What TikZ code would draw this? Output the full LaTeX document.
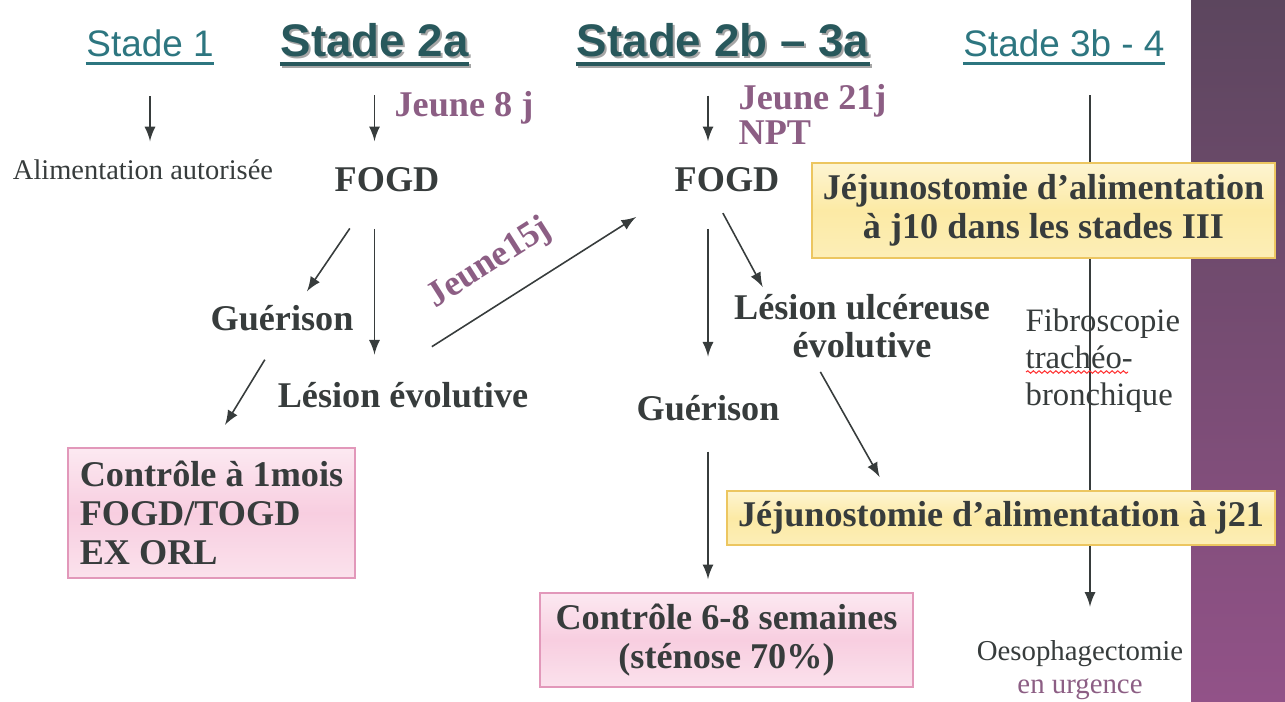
\documentclass[tikz,border=0pt]{standalone}
\usepackage{fontspec}
\setmainfont{Liberation Serif}
\setsansfont{Liberation Sans}
\usetikzlibrary{backgrounds,decorations.pathmorphing}

\definecolor{teal1}{RGB}{45,118,128}
\definecolor{teal2}{RGB}{40,88,92}
\definecolor{ink}{RGB}{55,60,60}
\definecolor{mauve}{RGB}{140,94,132}
\definecolor{pinkfill}{RGB}{248,206,224}
\definecolor{pinkline}{RGB}{226,152,186}
\definecolor{yellowfill}{RGB}{252,234,165}
\definecolor{yellowline}{RGB}{236,198,96}
\definecolor{bandtop}{RGB}{92,70,94}
\definecolor{bandbot}{RGB}{146,82,136}

\tikzset{
  stade/.style={inner sep=0pt, font=\sffamily\fontsize{10.5}{12}\selectfont, text=teal1},
  bigstade/.style={inner sep=0pt, font=\sffamily\bfseries\fontsize{13}{15}\selectfont, text=teal2},
  ombre/.style={bigstade, text=black!35},
  etape/.style={inner sep=0pt, font=\bfseries\fontsize{10.3}{11}\selectfont, text=ink},
  duree/.style={inner sep=0pt, font=\bfseries\fontsize{10.3}{10}\selectfont, text=mauve},
  note/.style={inner sep=0pt, font=\fontsize{8.2}{9.4}\selectfont, text=ink},
  pinkbox/.style={etape, inner sep=3pt, draw=pinkline, line width=0.5pt,
    top color=pinkfill!45, bottom color=pinkfill!60, middle color=pinkfill},
  yellowbox/.style={etape, inner sep=3pt, draw=yellowline, line width=0.5pt,
    top color=yellowfill!50, bottom color=yellowfill!80, middle color=yellowfill},
  fleche/.style={->, draw=ink, line width=0.45pt}
}

\begin{document}
\begin{tikzpicture}[>=latex]
\useasboundingbox (0,0) rectangle (12.85,-7.01);

% titres
\node[stade] (stade1) at (1.50,-0.43) {Stade 1};
\node[ombre] (ombre2a) at (3.765,-0.42) {Stade 2a};
\node[bigstade] (stade2a) at (3.745,-0.40) {Stade 2a};
\node[ombre] (ombre2b) at (7.25,-0.42) {Stade 2b – 3a};
\node[bigstade] (stade2b) at (7.23,-0.40) {Stade 2b – 3a};
\node[stade] (stade3b) at (10.64,-0.43) {Stade 3b - 4};

\draw[teal1, line width=0.8pt] ([yshift=-2pt]stade1.base west) -- ([yshift=-2pt]stade1.base east);
\draw[teal1, line width=0.8pt] ([yshift=-2pt]stade3b.base west) -- ([yshift=-2pt]stade3b.base east);
\draw[black!35, line width=1.1pt] ([yshift=-2.3pt]ombre2a.base west) -- ([yshift=-2.3pt]ombre2a.base east);
\draw[teal2, line width=1.1pt] ([yshift=-2.3pt]stade2a.base west) -- ([yshift=-2.3pt]stade2a.base east);
\draw[black!35, line width=1.1pt] ([yshift=-2.3pt]ombre2b.base west) -- ([yshift=-2.3pt]ombre2b.base east);
\draw[teal2, line width=1.1pt] ([yshift=-2.3pt]stade2b.base west) -- ([yshift=-2.3pt]stade2b.base east);

% stade 1
\node[note, font=\fontsize{8.1}{9}\selectfont] (alim) at (1.43,-1.70) {Alimentation autorisée};

% stade 2a
\node[duree] (jeune8) at (4.64,-1.08) {Jeune 8 j};
\node[etape] (fogd1) at (3.87,-1.80) {FOGD};
\node[etape] (guer1) at (2.82,-3.18) {Guérison};
\node[etape] (lesion1) at (4.03,-3.95) {Lésion évolutive};
\node[pinkbox, align=left, minimum width=2.87cm, minimum height=1.30cm] (ctrl1) at (2.115,-5.13)
  {Contrôle à 1mois\\FOGD/TOGD\\EX ORL};

% stade 2b - 3a
\node[duree, anchor=north west, align=left] (jeune21) at (7.38,-0.84) {Jeune 21j\\NPT};
\node[etape] (fogd2) at (7.27,-1.80) {FOGD};
\node[etape] (guer2) at (7.08,-4.08) {Guérison};
\node[etape, align=center] (lesionu) at (8.62,-3.26) {Lésion ulcéreuse\\évolutive};
\node[pinkbox, align=center, minimum width=3.73cm, minimum height=0.94cm] (ctrl2) at (7.265,-6.40)
  {Contrôle 6-8 semaines\\(sténose 70\%)};
\node[yellowbox, minimum width=5.48cm, minimum height=0.50cm] (jej21) at (10.01,-5.18)
  {Jéjunostomie d’alimentation à j21};

% stade 3b - 4
\node[yellowbox, align=center, minimum width=4.57cm, minimum height=0.95cm] (jej10) at (10.435,-2.105)
  {Jéjunostomie d’alimentation\\à j10 dans les stades III};
\node[note, font=\fontsize{9.3}{10.6}\selectfont, anchor=north west, align=left] (fibro) at (10.25,-3.08)
  {Fibroscopie\\trachéo-\\bronchique};
\node[note, align=center] (oeso) at (10.80,-6.70) {Oesophagectomie\\{\color{mauve}en urgence}};
\draw[red!80, line width=0.3pt, decorate, decoration={snake, amplitude=0.35pt, segment length=1.6pt}]
  (10.26,-3.72) -- (11.28,-3.72);

% fleches
\draw[fleche, shorten <=0.39cm, shorten >=0.18cm] (stade1.south) -- (stade1.south |- alim.north);
\draw[fleche, shorten <=0.38cm, shorten >=0.26cm] (stade2a.south) -- (stade2a.south |- fogd1.north);
\draw[fleche, shorten <=0.38cm, shorten >=0.26cm] (stade2b.south -| guer2.north) -- (guer2.north |- fogd2.north);
\draw[fleche, shorten <=0.43cm, shorten >=0.16cm] ([xshift=-1.3mm]fogd1.south) -- ([xshift=1.6mm]guer1.north);
\draw[fleche, shorten <=0.36cm, shorten >=0.27cm] (stade2a.south |- fogd1.south) -- (stade2a.south |- lesion1.north);
\draw[fleche, shorten <=0.33cm, shorten >=0.26cm] (guer1.south) -- (ctrl1.north);
\draw[fleche, shorten <=0.65cm, shorten >=0.45cm] ([xshift=-2.6mm]lesion1.north) -- (fogd2.south west)
  node[duree, sloped, pos=0.45, above=0.22cm] (jeune15) {Jeune15j};
\draw[fleche, shorten <=0.36cm, shorten >=0.38cm] (guer2.north |- fogd2.south) -- (guer2.north);
\draw[fleche, shorten <=0.23cm, shorten >=0.07cm] ([xshift=-1.5mm]fogd2.south) -- ([xshift=-9.6mm]lesionu.north);
\draw[fleche, shorten <=0.30cm, shorten >=0.13cm] (guer2.south) -- (guer2.south |- ctrl2.north);
\draw[fleche, shorten <=0.15cm, shorten >=0.15cm] ([xshift=-4.9mm]lesionu.south) -- ([xshift=-11.4mm]jej21.north);

\begin{pgfonlayer}{background}
\shade[top color=bandtop, bottom color=bandbot] (11.91,0) rectangle (12.85,-7.01);
\draw[fleche, shorten <=0.38cm, shorten >=0.33cm] ([xshift=2.6mm]stade3b.south) -- ([xshift=2.6mm]stade3b.south |- oeso.north);
\end{pgfonlayer}
\end{tikzpicture}
\end{document}
